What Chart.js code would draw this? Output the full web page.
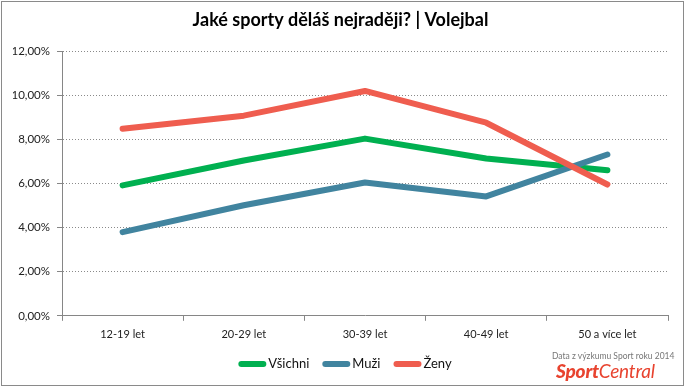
<!DOCTYPE html>
<html><head><meta charset="utf-8">
<script src="https://cdn.jsdelivr.net/npm/chart.js@4"></script>
<style>
html,body{margin:0;padding:0;background:#fff;}
#wrap{position:relative;width:686px;height:388px;}
#wm1{position:absolute;left:552px;top:351px;font:8.5px Lato,"Open Sans",sans-serif;color:#777;white-space:nowrap;}
#wm2{position:absolute;left:556px;top:359px;font:italic 19px Lato,sans-serif;color:#e8432f;white-space:nowrap;letter-spacing:-0.2px;}
#wm2 b{font-weight:900;}
</style></head>
<body>
<div id="wrap"><canvas id="c" width="686" height="388"></canvas>
<div id="wm1">Data z výzkumu Sport roku 2014</div>
<div id="wm2"><b>Sport</b>Central</div>
</div>
<script>
const categories = ["12-19 let","20-29 let","30-39 let","40-49 let","50 a více let"];
const vsichni = [5.91, 7.04, 8.03, 7.13, 6.60];
const muzi = [3.79, 5.01, 6.04, 5.41, 7.31];
const zeny = [8.48, 9.07, 10.19, 8.75, 5.95];
const seriesNames = ["Všichni","Muži","Ženy"];
const seriesColors = ["#00b050","#41849f","#ef5d4f"];

const frame = {
  id:'frame',
  afterDraw(chart){
    const ctx = chart.ctx;
    ctx.save();
    ctx.strokeStyle = '#8a8a8a'; ctx.lineWidth = 1;
    ctx.strokeRect(1.5,1.5,682,384);
    ctx.restore();
  }
};
const customLegend = {
  id:'customLegend',
  afterDraw(chart){
    const ctx = chart.ctx;
    ctx.save();
    ctx.font = '13px Lato, "Open Sans", sans-serif';
    ctx.textBaseline = 'middle';
    const y = 364, lineW = 28, gapText = 2, gapItem = 13;
    const ds = chart.data.datasets;
    let total = 0;
    ds.forEach(d => { total += lineW + gapText + ctx.measureText(d.label).width; });
    total += gapItem*(ds.length-1);
    let x = 345 - total/2;
    ds.forEach(d => {
      ctx.strokeStyle = d.borderColor; ctx.lineWidth = 6; ctx.lineCap = 'round';
      ctx.beginPath(); ctx.moveTo(x+3,y); ctx.lineTo(x+lineW-3,y); ctx.stroke();
      x += lineW + gapText;
      ctx.fillStyle = '#111';
      ctx.fillText(d.label, x, y);
      x += ctx.measureText(d.label).width + gapItem;
    });
    ctx.restore();
  }
};

const mk = (i, data, order) => ({
  label: seriesNames[i], data, borderColor: seriesColors[i], backgroundColor: seriesColors[i],
  borderWidth: 6, borderCapStyle:'round', borderJoinStyle:'round', pointRadius:0, tension:0, order
});

new Chart(document.getElementById('c'), {
  type:'line',
  data:{ labels: categories, datasets:[ mk(0,vsichni,2), mk(1,muzi,1), mk(2,zeny,0) ] },
  options:{
    responsive:false, animation:false,
    layout:{ padding:{left:13,right:18,top:0,bottom:40} },
    plugins:{
      legend:{display:false}, tooltip:{enabled:false},
      title:{ display:true, text:'Jaké sporty děláš nejraději? | Volejbal', color:'#000',
        font:{family:'Lato, "Open Sans", sans-serif', size:18, weight:'bold'},
        padding:{top:9.7,bottom:19.7} }
    },
    scales:{
      x:{ offset:true,
        grid:{ offset:true, drawOnChartArea:false, drawTicks:true, tickLength:5, color:'#868686', tickColor:'#868686' },
        border:{ color:'#868686' },
        ticks:{ color:'#222', padding:7, font:{family:'Lato, "Open Sans", sans-serif', size:11}, maxRotation:0 } },
      y:{ min:0, max:12,
        afterFit(s){ s.width = 49; },
        grid:{ color:'#8a8a8a', tickLength:5, tickColor:'#868686', tickBorderDash:[] },
        border:{ color:'#868686', dash:[1,2] },
        ticks:{ stepSize:2, padding:7, color:'#222', font:{family:'Lato, "Open Sans", sans-serif', size:11.5},
          callback:v => v.toFixed(2).replace('.',',') + '%' } }
    }
  },
  plugins:[frame, customLegend]
});
</script>
</body></html>
